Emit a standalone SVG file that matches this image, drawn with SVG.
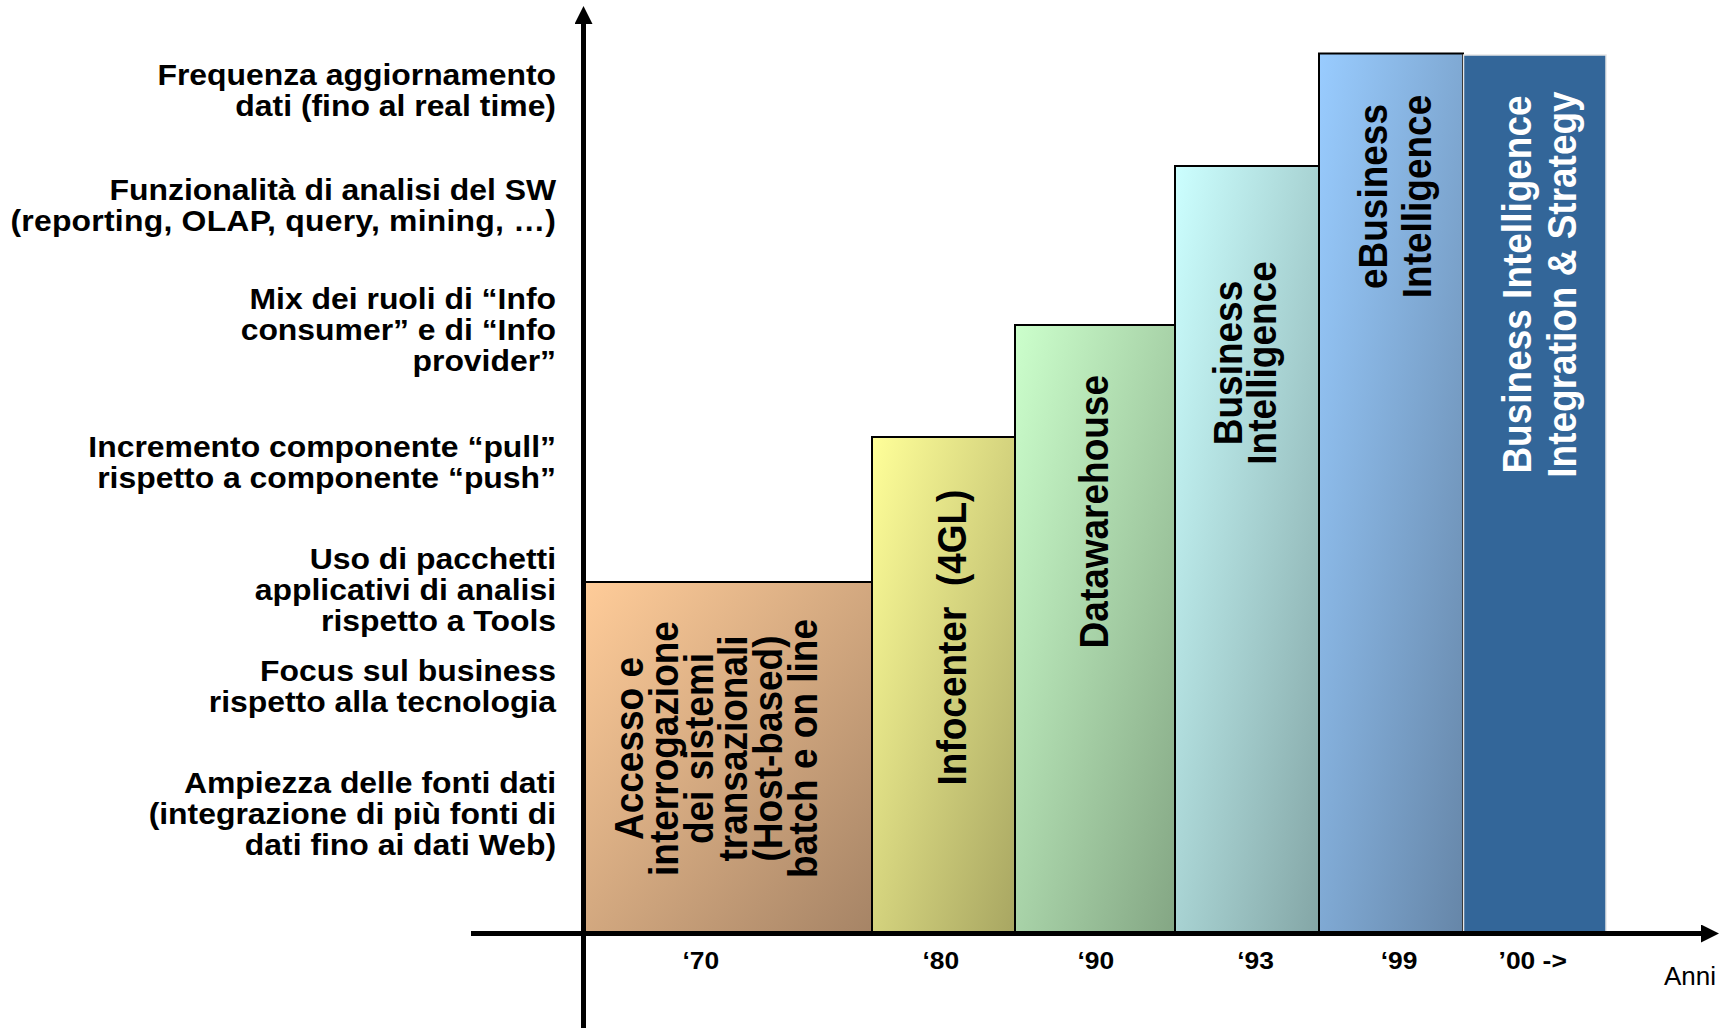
<svg xmlns="http://www.w3.org/2000/svg" width="1730" height="1028" viewBox="0 0 1730 1028">
  <style>
    text { font-family: "Liberation Sans", Arial, sans-serif; fill: #000; }
    .crit { font-size: 29px; font-weight: bold; text-anchor: end; }
    .era { font-size: 37px; font-weight: bold; text-anchor: middle; }
    .era-light { fill: #fff; }
    .year { font-size: 24px; font-weight: bold; text-anchor: middle; }
    .unit { font-size: 26px; text-anchor: end; }
    .bar { stroke: #000; stroke-width: 2; }
    .axis { stroke: #000; stroke-width: 5; fill: none; }
  </style>
  <defs>
    <linearGradient id="g70" x1="0" y1="0" x2="1" y2="1">
      <stop offset="0" stop-color="#FFCC99"/>
      <stop offset="1" stop-color="#A68466"/>
    </linearGradient>
    <linearGradient id="g80" x1="0" y1="0" x2="1" y2="1">
      <stop offset="0" stop-color="#FFFF99"/>
      <stop offset="1" stop-color="#A8A662"/>
    </linearGradient>
    <linearGradient id="g90" x1="0" y1="0" x2="1" y2="1">
      <stop offset="0" stop-color="#CCFFCC"/>
      <stop offset="1" stop-color="#84A684"/>
    </linearGradient>
    <linearGradient id="g93" x1="0" y1="0" x2="1" y2="1">
      <stop offset="0" stop-color="#CCFFFF"/>
      <stop offset="1" stop-color="#84A6A6"/>
    </linearGradient>
    <linearGradient id="g99" x1="0" y1="0" x2="1" y2="1">
      <stop offset="0" stop-color="#99CCFF"/>
      <stop offset="1" stop-color="#6686A8"/>
    </linearGradient>
    <marker id="arrow" viewBox="0 0 18 18" refX="0" refY="9" markerWidth="18" markerHeight="18" markerUnits="userSpaceOnUse" orient="auto">
      <path d="M0,0 L18,9 L0,18 Z" fill="#000"/>
    </marker>
  </defs>

  <!-- criteria listed along the vertical axis -->
  <g id="criteria">
    <text class="crit" transform="translate(556,85) scale(1.1,1)">Frequenza aggiornamento</text>
    <text class="crit" transform="translate(556,116) scale(1.1,1)">dati (fino al real time)</text>
    <text class="crit" transform="translate(556,200) scale(1.1,1)">Funzionalità di analisi del SW</text>
    <text class="crit" transform="translate(556,231) scale(1.1,1)" textLength="496" lengthAdjust="spacing">(reporting, OLAP, query, mining, …)</text>
    <text class="crit" transform="translate(556,309) scale(1.1,1)">Mix dei ruoli di “Info</text>
    <text class="crit" transform="translate(556,340) scale(1.1,1)">consumer” e di “Info</text>
    <text class="crit" transform="translate(556,371) scale(1.1,1)">provider”</text>
    <text class="crit" transform="translate(556,457) scale(1.1,1)">Incremento componente “pull”</text>
    <text class="crit" transform="translate(556,488) scale(1.1,1)">rispetto a componente “push”</text>
    <text class="crit" transform="translate(556,569) scale(1.1,1)">Uso di pacchetti</text>
    <text class="crit" transform="translate(556,600) scale(1.1,1)">applicativi di analisi</text>
    <text class="crit" transform="translate(556,631) scale(1.1,1)">rispetto a Tools</text>
    <text class="crit" transform="translate(556,681) scale(1.1,1)">Focus sul business</text>
    <text class="crit" transform="translate(556,712) scale(1.1,1)">rispetto alla tecnologia</text>
    <text class="crit" transform="translate(556,793) scale(1.1,1)">Ampiezza delle fonti dati</text>
    <text class="crit" transform="translate(556,824) scale(1.1,1)">(integrazione di più fonti di</text>
    <text class="crit" transform="translate(556,855) scale(1.1,1)">dati fino ai dati Web)</text>
  </g>

  <!-- era steps -->
  <g id="era-70">
    <rect class="bar" x="584" y="582" width="288" height="350" fill="url(#g70)"/>
    <text class="era" transform="translate(643.3,748.5) scale(1.1,1) rotate(-90)"><tspan x="0" y="0">Accesso e</tspan><tspan x="0" y="31.5">interrogazione</tspan><tspan x="0" y="63">dei sistemi</tspan><tspan x="0" y="94.5">transazionali</tspan><tspan x="0" y="126">(Host-based)</tspan><tspan x="0" y="157.5">batch e on line</tspan></text>
  </g>
  <g id="era-80">
    <rect class="bar" x="872" y="437" width="143" height="495" fill="url(#g80)"/>
    <text class="era" transform="translate(966,637.5) scale(1.1,1) rotate(-90)">Infocenter &#160;(4GL)</text>
  </g>
  <g id="era-90">
    <rect class="bar" x="1015" y="325" width="160" height="607" fill="url(#g90)"/>
    <text class="era" transform="translate(1108.3,511.7) scale(1.1,1) rotate(-90)">Datawarehouse</text>
  </g>
  <g id="era-93">
    <rect class="bar" x="1175" y="166" width="144" height="766" fill="url(#g93)"/>
    <text class="era" transform="translate(1241.7,363) scale(1.1,1) rotate(-90)"><tspan x="0" y="0">Business</tspan><tspan x="0" y="31.3">Intelligence</tspan></text>
  </g>
  <g id="era-99">
    <rect class="bar" x="1319" y="53.5" width="144" height="878.5" fill="url(#g99)"/>
    <text class="era" transform="translate(1386.7,196.5) scale(1.1,1) rotate(-90)"><tspan x="0" y="0">eBusiness</tspan><tspan x="0" y="40">Intelligence</tspan></text>
  </g>
  <g id="era-00">
    <rect x="1463.5" y="55" width="142.5" height="877" fill="#336699" stroke="#e6e6e6" stroke-width="1.5"/>
    <text class="era era-light" transform="translate(1530.5,284.5) scale(1.1,1) rotate(-90)"><tspan x="0" y="0">Business Intelligence</tspan><tspan x="0" y="41">Integration &amp; Strategy</tspan></text>
  </g>

  <!-- time axis labels -->
  <g id="years">
    <text class="year" transform="translate(700.8,969) scale(1.1,1)">‘70</text>
    <text class="year" transform="translate(940.8,969) scale(1.1,1)">‘80</text>
    <text class="year" transform="translate(1095.8,969) scale(1.1,1)">‘90</text>
    <text class="year" transform="translate(1255.5,969) scale(1.1,1)">‘93</text>
    <text class="year" transform="translate(1399,969) scale(1.1,1)">‘99</text>
    <text class="year" transform="translate(1532.7,969) scale(1.1,1)">’00 -&gt;</text>
    <text class="unit" x="1716" y="985">Anni</text>
  </g>

  <!-- axes -->
  <g id="connectors">
    <line class="axis" x1="583.5" y1="1028" x2="583.5" y2="24" marker-end="url(#arrow)"/>
    <line class="axis" x1="471" y1="933.5" x2="1701" y2="933.5" marker-end="url(#arrow)"/>
  </g>
</svg>
